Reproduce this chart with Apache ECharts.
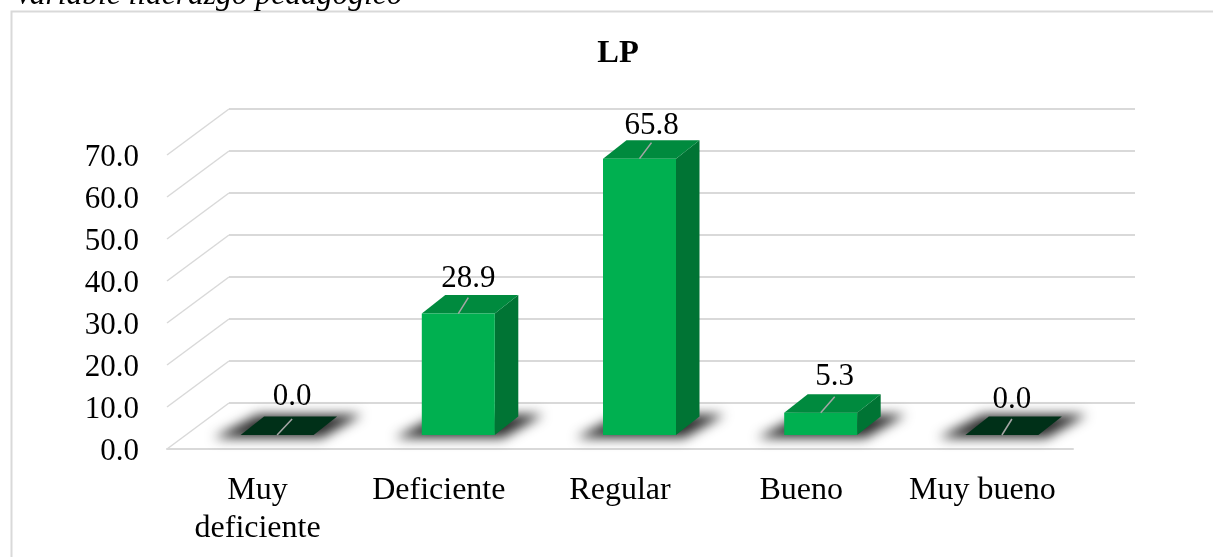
<!DOCTYPE html>
<html>
<head>
<meta charset="utf-8">
<style>html,body{margin:0;padding:0;background:#fff}#chart{width:1213px;height:557px}</style>
<script src="https://cdn.jsdelivr.net/npm/echarts@6/dist/echarts.min.js"></script>
</head>
<body>
<div id="chart"></div>
<script>
const categories = ['Muy\ndeficiente', 'Deficiente', 'Regular', 'Bueno', 'Muy bueno'];
const values = [0.0, 28.9, 65.8, 5.3, 0.0];
const yTicks = [0, 10, 20, 30, 40, 50, 60, 70];
const chartTitle = 'LP';
const caption = 'Variable liderazgo pedagógico';

// Pseudo-3D layout: the axes sit on a front plane, the gridlines on a back plane.
const FONT = '"Liberation Serif", "Times New Roman", serif';
const WALL = { dx: 62, dy: -46 };     // front plane to back wall
const FLOOR = { dx: 19.5, dy: -14 };  // front plane to the bars' front faces
const CUBE = { w: 73, dx: 23.5, dy: -18.5 };
const LABEL_SHIFT = [[15, 10], [10, 7], [12, 5], [14, 8], [10, 7]];
const FRONT = { left: 167, right: 140, top: 155, bottom: 108 };
const SHADOW_OFFSET = 3000;           // the caster is drawn off-canvas so only its blur shows

function poly(points, fill, extra) {
  return { type: 'polygon', shape: { points }, style: Object.assign({ fill }, extra || {}) };
}

function renderWallEdge(params, api) {
  const p = api.coord([0, api.value(0)]);
  const x0 = FRONT.left;
  return {
    type: 'line',
    shape: { x1: x0, y1: p[1], x2: x0 + WALL.dx, y2: p[1] + WALL.dy },
    style: { stroke: '#d9d9d9', lineWidth: 1.5, fill: null }
  };
}

function renderCube(params, api) {
  const i = api.value(0);
  const v = api.value(1);
  const base = api.coord([i, 0]);
  const top = api.coord([i, v]);
  const cx = base[0] + FLOOR.dx;
  const yb = base[1] + FLOOR.dy;
  const yt = top[1] + FLOOR.dy;
  const l = cx - CUBE.w / 2;
  const r = cx + CUBE.w / 2;
  const dx = CUBE.dx;
  const dy = CUBE.dy;
  const shift = LABEL_SHIFT[params.dataIndex];
  const off = SHADOW_OFFSET;
  const children = [
    poly([[l - 27 - off, yb + 3], [r + 8 - off, yb + 3], [r + dx + 25 - off, yb + dy - 2], [l + dx - 6 - off, yb + dy - 2]], '#333',
      { shadowBlur: 12, shadowColor: '#2e2e2e', shadowOffsetX: off }),
    poly([[r, yt], [r + dx, yt + dy], [r + dx, yb + dy], [r, yb]], '#007434'),
    poly([[l, yt], [r, yt], [r + dx, yt + dy], [l + dx, yt + dy]], v > 0 ? '#008a3e' : '#003018'),
    { type: 'rect', shape: { x: l, y: yt, width: CUBE.w, height: yb - yt }, style: { fill: '#00b050' } },
    {
      type: 'line',
      shape: { x1: cx, y1: yt, x2: cx + shift[0], y2: yt - 16 },
      style: { stroke: '#a6a6a6', lineWidth: 1.5, fill: null }
    },
    {
      type: 'text',
      style: {
        text: v.toFixed(1),
        x: cx + shift[0],
        y: yt + dy - shift[1] + 6,
        align: 'center',
        verticalAlign: 'bottom',
        fill: '#000',
        font: '31px ' + FONT
      }
    }
  ];
  return { type: 'group', children };
}

const chart = echarts.init(document.getElementById('chart'), null, { renderer: 'canvas' });
chart.setOption({
  animation: false,
  backgroundColor: '#fff',
  graphic: [
    { type: 'rect', left: 9, top: 9, shape: { width: 1300, height: 700 },
      style: { fill: 'none', stroke: '#d9d9d9', lineWidth: 2 }, silent: true, z: 0 },
    { type: 'text', x: 14, y: 12, style: { text: caption, font: 'italic 31.5px ' + FONT, fill: '#000',
      verticalAlign: 'bottom' }, z: 1 }
  ],
  title: {
    text: chartTitle, left: 613, top: 32, textAlign: 'center',
    textStyle: { fontFamily: FONT, fontSize: 32.5, fontWeight: 'bold', color: '#000' }
  },
  grid: [
    { left: FRONT.left, right: FRONT.right, top: FRONT.top, bottom: FRONT.bottom },
    { left: FRONT.left + WALL.dx, right: FRONT.right - WALL.dx,
      top: FRONT.top + WALL.dy, bottom: FRONT.bottom - WALL.dy }
  ],
  xAxis: [
    {
      type: 'category', gridIndex: 0, data: categories,
      axisLine: { lineStyle: { color: '#d9d9d9', width: 2 } },
      axisTick: { show: false },
      axisLabel: { fontFamily: FONT, fontSize: 32, color: '#000', margin: 23, lineHeight: 38, interval: 0 }
    },
    { type: 'category', gridIndex: 1, data: categories, show: false }
  ],
  yAxis: [
    {
      type: 'value', gridIndex: 0, min: 0, max: 70, interval: 10,
      axisLine: { show: false }, axisTick: { show: false }, splitLine: { show: false },
      axisLabel: { fontFamily: FONT, fontSize: 31, color: '#000', margin: 28, verticalAlign: 'top', padding: [-13, 0, 0, 0],
        formatter: v => v.toFixed(1) }
    },
    {
      type: 'value', gridIndex: 1, min: 0, max: 70, interval: 10,
      axisLine: { show: false }, axisTick: { show: false }, axisLabel: { show: false },
      splitLine: { show: true, lineStyle: { color: '#d9d9d9', width: 2 } }
    }
  ],
  series: [
    {
      type: 'custom', xAxisIndex: 0, yAxisIndex: 0, coordinateSystem: 'cartesian2d',
      renderItem: renderWallEdge, data: yTicks.map(t => [t]), silent: true, z: 1,
      encode: { y: 0 }, clip: false
    },
    {
      type: 'custom', xAxisIndex: 0, yAxisIndex: 0, coordinateSystem: 'cartesian2d',
      renderItem: renderCube, data: values.map((v, i) => [i, v]), silent: true, z: 3,
      encode: { x: 0, y: 1 }, clip: false
    }
  ]
});
</script>
</body>
</html>
